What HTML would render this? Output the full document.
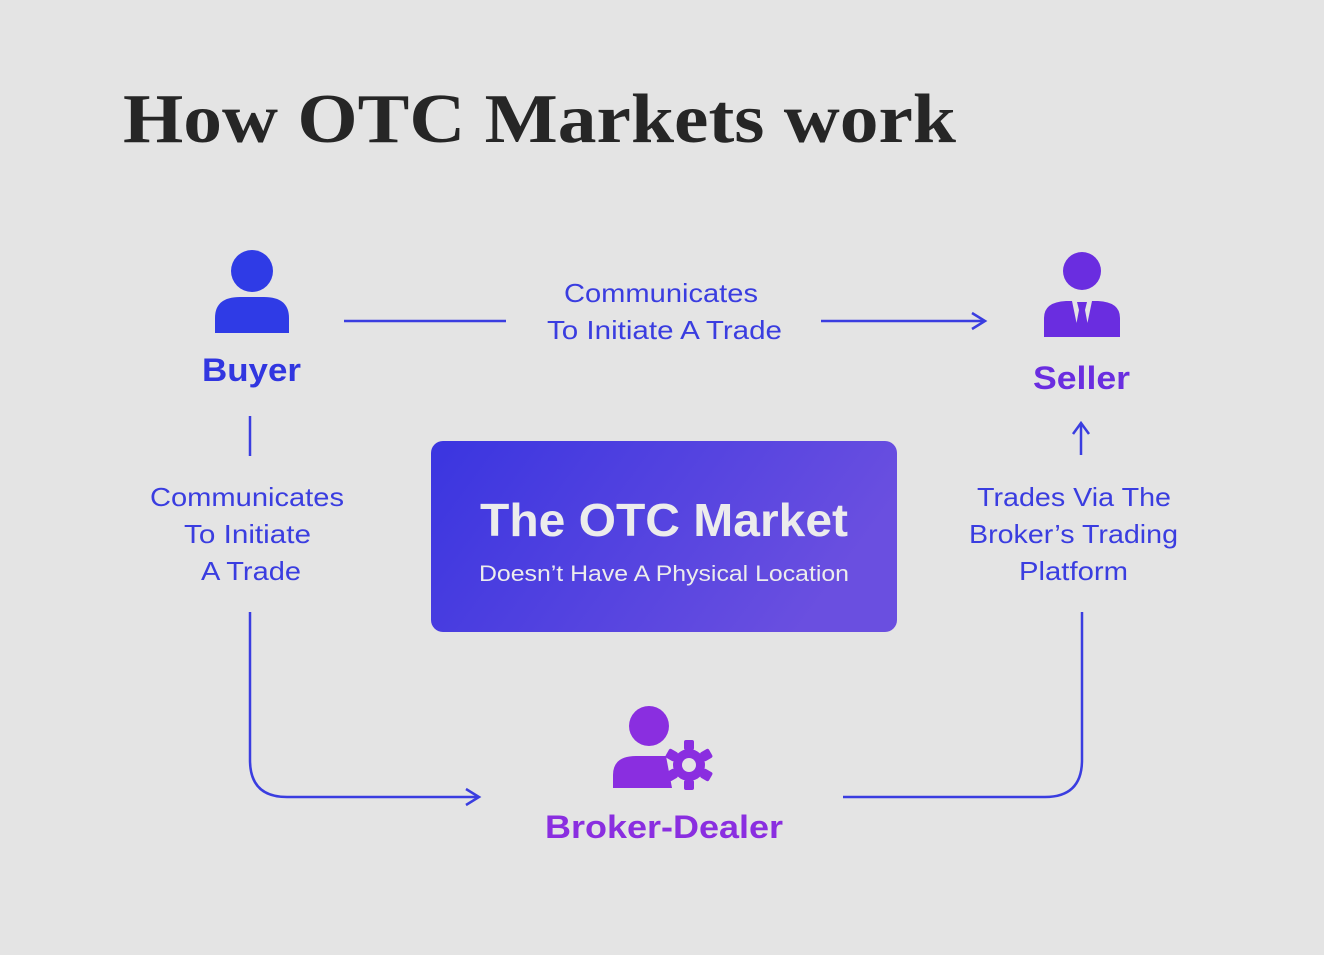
<!DOCTYPE html>
<html><head><meta charset="utf-8"><style>
html,body{margin:0;padding:0;background:#e4e4e4;}
svg{display:block}
</style></head><body>
<svg width="1324" height="955" viewBox="0 0 1324 955" xmlns="http://www.w3.org/2000/svg">
<defs>
<linearGradient id="g" x1="0" y1="0" x2="1" y2="0.3">
<stop offset="0" stop-color="#3a35e0"/><stop offset="1" stop-color="#6a4fe0"/>
</linearGradient>
</defs>
<rect width="1324" height="955" fill="#e4e4e4"/>
<text x="123" y="142" font-family="Liberation Serif, serif" font-weight="bold" font-size="70" fill="#262626" textLength="833" lengthAdjust="spacingAndGlyphs">How OTC Markets work</text>

<!-- Buyer icon -->
<circle cx="252" cy="271" r="21" fill="#2f3be6"/>
<path d="M215 333 L215 318 Q215 297 240 297 L264 297 Q289 297 289 318 L289 333 Z" fill="#2f3be6"/>
<text x="202" y="381" font-family="Liberation Sans, sans-serif" font-weight="bold" font-size="32" fill="#3136e0" textLength="99" lengthAdjust="spacingAndGlyphs">Buyer</text>

<!-- Seller icon -->
<circle cx="1082" cy="271" r="19" fill="#6a2de0"/>
<path d="M1044 337 L1044 318 Q1044 302 1066 301 L1072 301 L1078 330 L1086 330 L1092 301 L1098 301 Q1120 302 1120 318 L1120 337 Z" fill="#6a2de0"/>
<path d="M1077 302 L1087 302 L1085 310 L1089 331 L1082 337 L1075 331 L1079 310 Z" fill="#6a2de0"/>
<text x="1033" y="389" font-family="Liberation Sans, sans-serif" font-weight="bold" font-size="32" fill="#6a2de0" textLength="97" lengthAdjust="spacingAndGlyphs">Seller</text>

<!-- Broker icon -->
<circle cx="649" cy="726" r="20" fill="#8a2ee0"/>
<path d="M613 788 L613 775 Q613 756 636 756 L666 756 L672 788 Z" fill="#8a2ee0"/>
<g transform="translate(689,765)" fill="#8a2ee0">
<circle r="17" fill="#e4e4e4"/>
<circle r="16"/>
<g><rect x="-5" y="-25" width="10" height="10" rx="2"/><rect x="-5" y="15" width="10" height="10" rx="2"/></g>
<g transform="rotate(60)"><rect x="-5" y="-25" width="10" height="10" rx="2"/><rect x="-5" y="15" width="10" height="10" rx="2"/></g>
<g transform="rotate(120)"><rect x="-5" y="-25" width="10" height="10" rx="2"/><rect x="-5" y="15" width="10" height="10" rx="2"/></g>
<circle r="7" fill="#e4e4e4"/>
</g>
<text x="545" y="838" font-family="Liberation Sans, sans-serif" font-weight="bold" font-size="32" fill="#8a2ee0" textLength="238" lengthAdjust="spacingAndGlyphs">Broker-Dealer</text>

<!-- Center box -->
<rect x="431" y="441" width="466" height="191" rx="12" fill="url(#g)"/>
<text x="664" y="536" text-anchor="middle" font-family="Liberation Sans, sans-serif" font-weight="bold" font-size="46" fill="#ececec" textLength="368" lengthAdjust="spacingAndGlyphs">The OTC Market</text>
<text x="664" y="581" text-anchor="middle" font-family="Liberation Sans, sans-serif" font-size="22" fill="#ececec" textLength="370" lengthAdjust="spacingAndGlyphs">Doesn’t Have A Physical Location</text>

<g font-family="Liberation Sans, sans-serif" font-size="26" fill="#3a3de0" lengthAdjust="spacingAndGlyphs">
<text x="564" y="302" textLength="194" lengthAdjust="spacingAndGlyphs">Communicates</text>
<text x="547" y="339" textLength="235" lengthAdjust="spacingAndGlyphs">To Initiate A Trade</text>
<text x="150" y="506" textLength="194" lengthAdjust="spacingAndGlyphs">Communicates</text>
<text x="184" y="543" textLength="127" lengthAdjust="spacingAndGlyphs">To Initiate</text>
<text x="201" y="580" textLength="100" lengthAdjust="spacingAndGlyphs">A Trade</text>
<text x="977" y="506" textLength="194" lengthAdjust="spacingAndGlyphs">Trades Via The</text>
<text x="969" y="543" textLength="209" lengthAdjust="spacingAndGlyphs">Broker’s Trading</text>
<text x="1019" y="580" textLength="109" lengthAdjust="spacingAndGlyphs">Platform</text>
</g>

<g stroke="#3a3de0" stroke-width="2.5" fill="none">
<line x1="344" y1="321" x2="506" y2="321"/>
<line x1="821" y1="321" x2="984" y2="321"/>
<path d="M972 313 L985 321 L972 329"/>
<line x1="250" y1="416" x2="250" y2="456"/>
<path d="M250 612 L250 760 Q250 797 287 797 L478 797"/>
<path d="M466 789 L479 797 L466 805"/>
<path d="M843 797 L1045 797 Q1082 797 1082 760 L1082 612"/>
<line x1="1081" y1="424" x2="1081" y2="455"/>
<path d="M1073 434 L1081 423 L1089 434"/>
</g>
</svg>
</body></html>
